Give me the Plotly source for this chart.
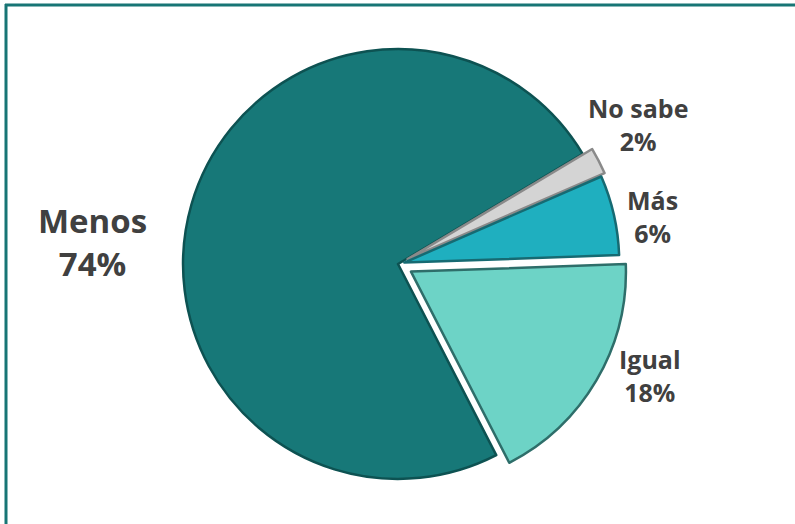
import plotly.graph_objects as go

labels = ["Igual", "Menos", "No sabe", "Más"]
values = [18, 74, 2, 6]
pcts = ["18%", "74%", "2%", "6%"]
colors = ["#6DD3C6", "#177878", "#D4D4D4", "#1FAFBF"]
line_colors = ["#2E6E6A", "#0D5252", "#8A8A8A", "#166A72"]
pulls = [0.07, 0, 0.05, 0.03]

W, H = 795, 524
cx, cy, half = 398, 264, 230

fig = go.Figure(go.Pie(
    labels=labels, values=values, sort=False, direction="clockwise",
    rotation=88, pull=pulls, textinfo="none", hoverinfo="label+percent",
    marker=dict(colors=colors, line=dict(color=line_colors, width=2.5)),
    domain=dict(x=[(cx - half) / W, (cx + half) / W],
                y=[(H - cy - half) / H, (H - cy + half) / H]),
    showlegend=False,
))

# label placement (pixels: x, y, font size)
label_pos = {"Igual": (650, 375, 25), "Menos": (92, 242, 33),
             "No sabe": (638, 124, 25), "Más": (652, 216, 25)}
for lab, pc in zip(labels, pcts):
    x, y, s = label_pos[lab]
    fig.add_annotation(x=x / W, y=1 - y / H, xref="paper", yref="paper",
                       xanchor="center", yanchor="middle",
                       text=f"<b>{lab}<br>{pc}</b>", showarrow=False,
                       font=dict(family="Open Sans", size=s, color="#404040"),
                       align="center")

fig.add_shape(type="line", xref="paper", yref="paper",
              x0=5 / W, x1=1, y0=1 - 5 / H, y1=1 - 5 / H,
              line=dict(color="#177575", width=3))
fig.add_shape(type="line", xref="paper", yref="paper",
              x0=6 / W, x1=6 / W, y0=0, y1=1 - 4 / H,
              line=dict(color="#177575", width=3))

fig.update_layout(width=W, height=H, margin=dict(l=0, r=0, t=0, b=0),
                  paper_bgcolor="white", plot_bgcolor="white")
fig.write_html("out.html", config={"displayModeBar": False},
               post_script="document.body.style.margin='0';document.body.style.overflow='hidden';")
